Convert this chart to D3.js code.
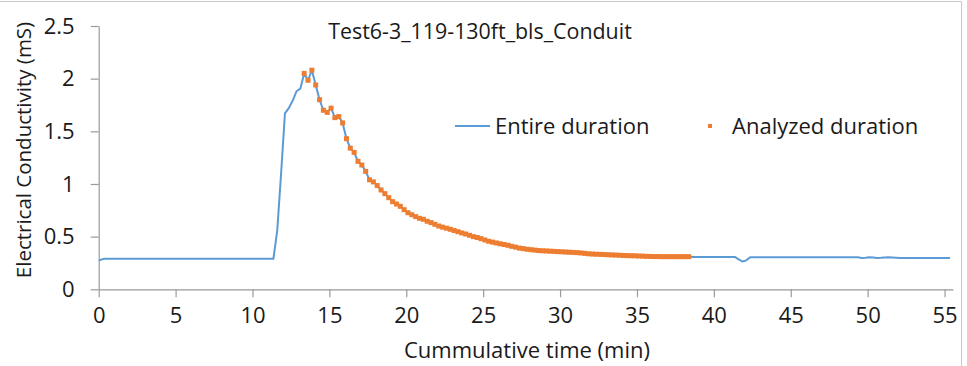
<!DOCTYPE html>
<html>
<head>
<meta charset="utf-8">
<script src="https://cdn.jsdelivr.net/npm/d3@7"></script>
<style>
    body { margin: 0; background: #fff; }
    text { font-family: "Open Sans", sans-serif; fill: #1a1a1a; }
</style>
</head>
<body>
<div id="chart"></div>
<script>
// Entire duration, before the analyzed window (min, mS)
var preTime = [0, 0.36, 11.36, 11.61, 11.86, 12.11, 12.36, 12.61, 12.86, 13.11];
var preValue = [0.275, 0.29, 0.29, 0.56, 1.1, 1.67, 1.72, 1.79, 1.88, 1.905];

// Analyzed duration (every 15 s)
var analyzedTime = [13.36, 13.61, 13.86, 14.11, 14.36, 14.61, 14.86, 15.11, 15.36, 15.61,
    15.86, 16.11, 16.36, 16.61, 16.86, 17.11, 17.36, 17.61, 17.86, 18.11,
    18.36, 18.61, 18.86, 19.11, 19.36, 19.61, 19.86, 20.11, 20.36, 20.61,
    20.86, 21.11, 21.36, 21.61, 21.86, 22.11, 22.36, 22.61, 22.86, 23.11,
    23.36, 23.61, 23.86, 24.11, 24.36, 24.61, 24.86, 25.11, 25.36, 25.61,
    25.86, 26.11, 26.36, 26.61, 26.86, 27.11, 27.36, 27.61, 27.86, 28.11,
    28.36, 28.61, 28.86, 29.11, 29.36, 29.61, 29.86, 30.11, 30.36, 30.61,
    30.86, 31.11, 31.36, 31.61, 31.86, 32.11, 32.36, 32.61, 32.86, 33.11,
    33.36, 33.61, 33.86, 34.11, 34.36, 34.61, 34.86, 35.11, 35.36, 35.61,
    35.86, 36.11, 36.36, 36.61, 36.86, 37.11, 37.36, 37.61, 37.86, 38.11,
    38.36];
var analyzedValue = [2.05, 1.985, 2.08, 1.94, 1.80, 1.70, 1.68, 1.72, 1.63, 1.64,
    1.58, 1.43, 1.34, 1.30, 1.215, 1.18, 1.12, 1.04, 1.02, 0.985,
    0.943, 0.908, 0.87, 0.832, 0.81, 0.788, 0.756, 0.727, 0.708, 0.69,
    0.674, 0.665, 0.646, 0.633, 0.617, 0.601, 0.59, 0.58, 0.57, 0.558,
    0.547, 0.535, 0.525, 0.513, 0.50, 0.492, 0.481, 0.468, 0.456, 0.448,
    0.44, 0.432, 0.425, 0.418, 0.408, 0.40, 0.391, 0.386, 0.38, 0.376,
    0.372, 0.368, 0.366, 0.364, 0.362, 0.36, 0.358, 0.356, 0.354, 0.352,
    0.35, 0.348, 0.345, 0.341, 0.337, 0.335, 0.333, 0.332, 0.33, 0.328,
    0.326, 0.325, 0.323, 0.321, 0.32, 0.319, 0.318, 0.316, 0.315, 0.313,
    0.312, 0.311, 0.311, 0.31, 0.31, 0.31, 0.31, 0.31, 0.31, 0.31,
    0.31];

// Entire duration, after the analyzed window
var postTime = [38.61, 41.36, 41.61, 41.86, 42.11, 42.36, 42.61, 49.36, 49.61, 49.86,
    50.11, 50.36, 50.61, 50.86, 51.11, 51.36, 51.61, 51.86, 52.11, 55.36];
var postValue = [0.307, 0.307, 0.285, 0.264, 0.275, 0.305, 0.304, 0.304, 0.298, 0.30,
    0.305, 0.302, 0.298, 0.299, 0.302, 0.304, 0.303, 0.30, 0.297, 0.297];

var xTicks = [0, 5, 10, 15, 20, 25, 30, 35, 40, 45, 50, 55];
var yTicks = [0, 0.5, 1, 1.5, 2, 2.5];

var width = 967,
    height = 366;

var x = d3.scaleLinear().domain([0, 55.55]).range([98.7, 953]);
var y = d3.scaleLinear().domain([0, 2.5]).range([289.3, 26]);

var entireTime = preTime.concat(analyzedTime, postTime);
var entireValue = preValue.concat(analyzedValue, postValue);

var entire = entireTime.map(function (t, i) {
    return {t: t, v: entireValue[i]};
});
var analyzed = analyzedTime.map(function (t, i) {
    return {t: t, v: analyzedValue[i]};
});

var svg = d3.select("#chart")
    .append("svg")
    .attr("width", width)
    .attr("height", height);

// chart area border
svg.append("line")
    .attr("x1", 0).attr("x2", 961.5)
    .attr("y1", 1.5).attr("y2", 1.5)
    .style("stroke", "#c8c8c8");
svg.append("line")
    .attr("x1", 961.5).attr("x2", 961.5)
    .attr("y1", 1.5).attr("y2", height)
    .style("stroke", "#c8c8c8");

var xAxis = svg.append("g")
    .attr("transform", "translate(0," + y(0) + ")")
    .call(d3.axisBottom(x).tickValues(xTicks).tickSize(8).tickSizeOuter(0).tickPadding(10));

var yAxis = svg.append("g")
    .attr("transform", "translate(" + x(0) + ",0)")
    .call(d3.axisLeft(y).tickValues(yTicks).tickSize(8).tickSizeOuter(0).tickPadding(16)
        .tickFormat(function (d) { return d; }));

svg.selectAll(".domain, .tick line").style("stroke", "#9a9a9a").style("stroke-width", 1.2);
svg.selectAll(".tick text").style("font-size", "22px").style("fill", "#1a1a1a")
    .style("font-family", "'Open Sans', sans-serif");

var line = d3.line()
    .x(function (d) { return x(d.t); })
    .y(function (d) { return y(d.v); });

svg.append("path")
    .datum(entire)
    .attr("d", line)
    .style("fill", "none")
    .style("stroke", "#5B9BD5")
    .style("stroke-width", 2)
    .style("stroke-linejoin", "round");

svg.selectAll(".mark")
    .data(analyzed)
    .enter().append("rect")
    .attr("class", "mark")
    .attr("x", function (d) { return x(d.t) - 2.5; })
    .attr("y", function (d) { return y(d.v) - 2.5; })
    .attr("width", 5)
    .attr("height", 5)
    .style("fill", "#ED7D31");

// titles
svg.append("text")
    .attr("x", 480)
    .attr("y", 39)
    .attr("text-anchor", "middle")
    .style("font-size", "21.4px")
    .text("Test6-3_119-130ft_bls_Conduit");

svg.append("text")
    .attr("x", 527)
    .attr("y", 358)
    .attr("text-anchor", "middle")
    .style("font-size", "22px")
    .text("Cummulative time (min)");

svg.append("text")
    .attr("transform", "translate(31,150) rotate(-90)")
    .attr("text-anchor", "middle")
    .style("font-size", "20.5px")
    .text("Electrical Conductivity (mS)");

// legend
var legend = svg.append("g");
legend.append("line")
    .attr("x1", 455).attr("x2", 490)
    .attr("y1", 126).attr("y2", 126)
    .style("stroke", "#5B9BD5")
    .style("stroke-width", 2);
legend.append("text")
    .attr("x", 495).attr("y", 134)
    .style("font-size", "22px")
    .text("Entire duration");
legend.append("rect")
    .attr("x", 708).attr("y", 124)
    .attr("width", 4).attr("height", 4)
    .style("fill", "#ED7D31");
legend.append("text")
    .attr("x", 732).attr("y", 134)
    .style("font-size", "22px")
    .text("Analyzed duration");
</script>
</body>
</html>
